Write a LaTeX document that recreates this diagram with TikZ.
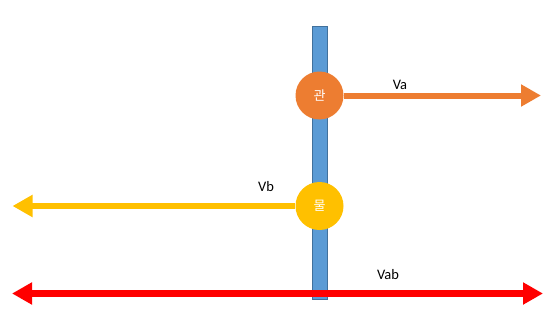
\documentclass[tikz,border=0pt]{standalone}
\usepackage{fontspec}
\setmainfont{Carlito}
\newfontfamily\krfont{Noto Sans CJK KR}
\usetikzlibrary{arrows.meta}
\definecolor{barblue}{HTML}{5B9BD5}
\definecolor{barline}{HTML}{41719C}
\definecolor{pipeorange}{HTML}{ED7D31}
\definecolor{wateryellow}{HTML}{FFC000}
\begin{document}
\begin{tikzpicture}[x=1pt, y=-1pt]
        % Common Styles
        \tikzset{bar/.style={draw=barline, fill=barblue, line width=0.8pt, rectangle, minimum width=15pt, minimum height=273pt, inner sep=0pt}}
        \tikzset{ball/.style={circle, minimum size=48pt, inner sep=0pt, text=white, font=\krfont\fontsize{13}{13}\selectfont}}
        \tikzset{vel/.style={line width=6pt, -{Triangle[length=20pt, width=21pt]}}}
        \tikzset{lbl/.style={font=\fontsize{14.5}{14.5}\selectfont}}
        \useasboundingbox (0, 0) rectangle (557, 311);

        % Bar
        \node[bar] (B) at (320, 162.5) {};

        % 1. Pipe
        \node[ball, fill=pipeorange] (P) at (319.5, 95.5) {관};
        \coordinate (Pend) at (541, 95.5);
        \draw[vel, pipeorange] (P.east) -- (Pend);
        \node[lbl] (Va) at (400, 85) {Va};

        % 2. Water
        \node[ball, fill=wateryellow] (W) at (319.5, 206) {물};
        \coordinate (Wend) at (12.5, 206);
        \draw[vel, wateryellow] (W.west) -- (Wend);
        \node[lbl] (Vb) at (266, 187) {Vb};

        % 3. Relative
        \coordinate (Rleft) at (12, 293.5);
        \coordinate (Rright) at (543, 293.5);
        \draw[vel, red, line width=6.5pt, {Triangle[length=20pt, width=21pt]}-{Triangle[length=20pt, width=21pt]}] (Rleft) -- (Rright);
        \node[lbl] (Vab) at (388, 275) {Vab};
    \end{tikzpicture}
\end{document}
